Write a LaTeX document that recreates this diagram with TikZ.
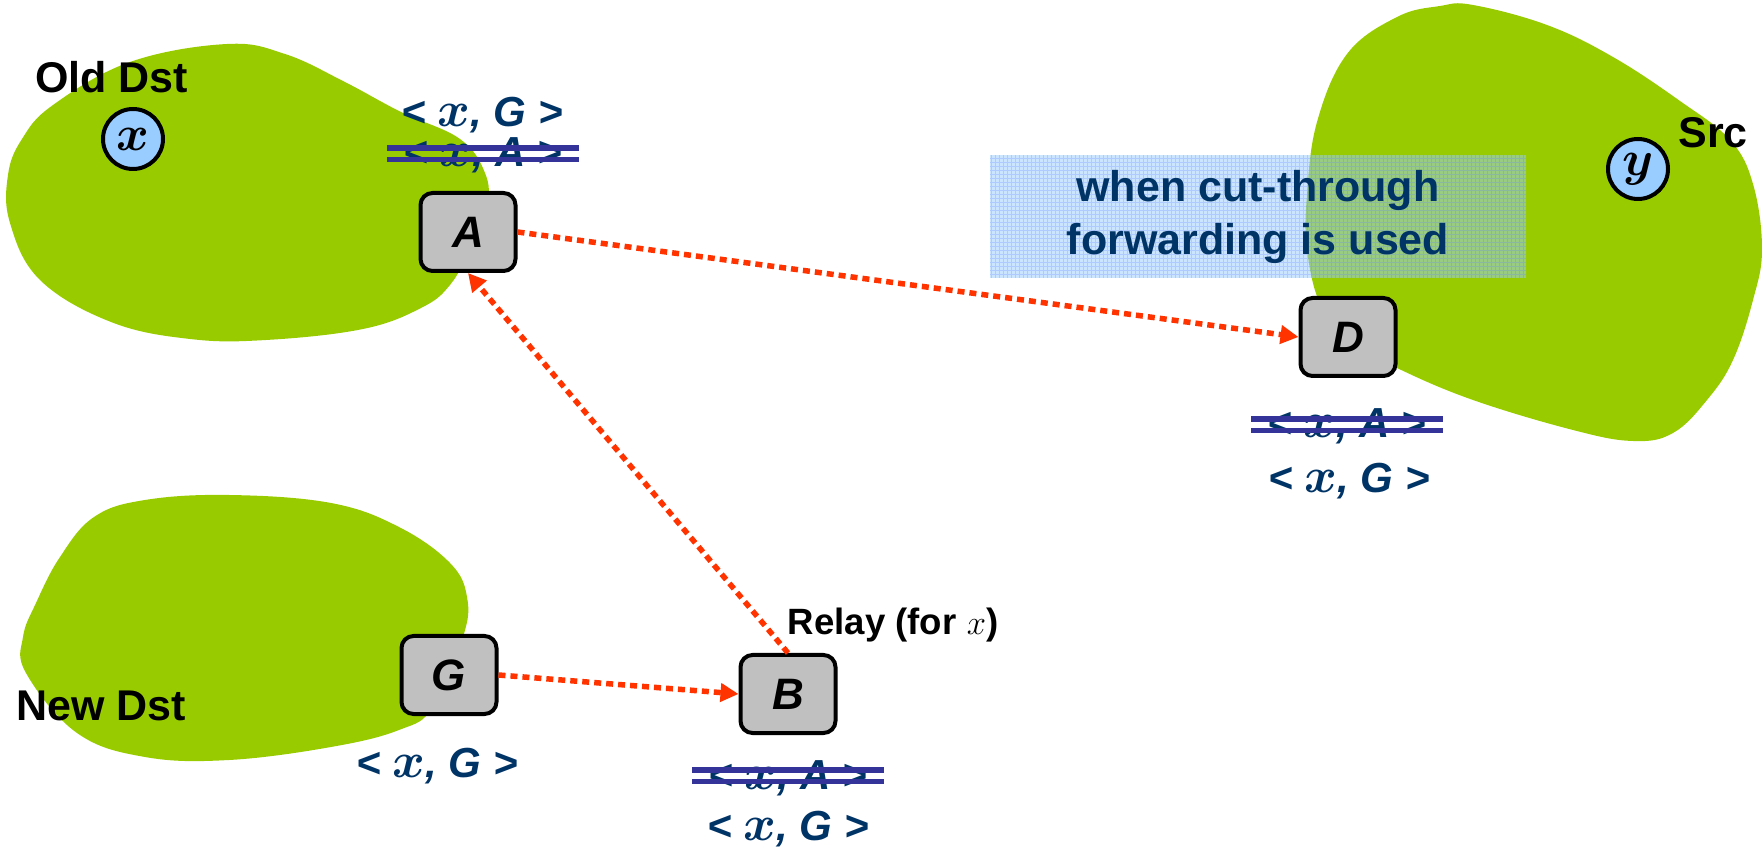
\documentclass[tikz,border=0pt]{standalone}
\usepackage{fontspec}
\setmainfont{Liberation Sans}
\usetikzlibrary{arrows.meta,calc}

\definecolor{blobgreen}{HTML}{99CC00}
\definecolor{nodegray}{HTML}{C0C0C0}
\definecolor{hostblue}{HTML}{99CCFF}
\definecolor{labelnavy}{HTML}{003366}
\definecolor{strikeblue}{HTML}{333399}
\definecolor{flowred}{HTML}{FF3300}

% the destination variable, set large in math italic
\newcommand{\varx}{{\fontsize{27}{27}\selectfont\boldmath$x$}}
% a mapping entry  < x, R >
\newcommand{\mapentry}[1]{\textbf{\textit{< }}\varx\textbf{\textit{, #1 >}}}

\tikzset{
  router/.style={draw=black, line width=2pt, rounded corners=6pt, fill=nodegray,
    minimum width=47.5pt, minimum height=39pt, inner sep=0pt,
    font=\fontsize{22}{22}\selectfont\bfseries\itshape},
  host/.style={circle, draw=black, line width=2pt, fill=hostblue,
    minimum size=30pt, inner sep=0pt, font=\fontsize{24}{24}\selectfont\boldmath},
  place/.style={anchor=base, inner sep=0pt, text=black,
    font=\fontsize{21.5}{21.5}\selectfont\bfseries},
  mapping/.style={anchor=base, inner sep=0pt, text=labelnavy,
    font=\fontsize{21}{21}\selectfont},
  strike/.style={draw=strikeblue, line width=2.8pt},
  flow/.style={draw=flowred, line width=2.75pt, dash pattern=on 3.5pt off 2.5pt,
    -{Triangle[length=9pt,width=9pt,fill=flowred]}},
  notebox/.style={fill=hostblue, fill opacity=0.5, text opacity=1, text=labelnavy,
    minimum width=268pt, minimum height=61.5pt, inner sep=0pt, align=center,
    font=\fontsize{21.5}{26.5}\selectfont\bfseries,
    path picture={\draw[step=2pt, line width=0.25pt, draw=hostblue!60!blue, opacity=0.25]
      (path picture bounding box.south west) grid (path picture bounding box.north east);}},
}

\begin{document}
\begin{tikzpicture}[x=0.5pt, y=-0.5pt]
\useasboundingbox (0,0) rectangle (1762,849);

% domains
\fill[blobgreen] plot[smooth cycle, tension=0.65] coordinates {
  (227,44) (285,54) (343,81) (401,112) (460,139) (485,173) (487,205) (471,247)
  (450,285) (421,308) (363,329) (266,340) (190,339) (111,322) (40,280) (10,223)
  (8,175) (22,139) (53,105) (130,62)};
\fill[blobgreen] plot[smooth cycle, tension=0.65] coordinates {
  (229,495) (331,503) (399,527) (450,563) (467,597) (463,637) (433,707) (399,730)
  (331,747) (229,760) (145,757) (77,733) (26,673) (23,637) (36,603) (60,557)
  (94,517) (145,500)};
\fill[blobgreen] plot[smooth cycle, tension=0.65] coordinates {
  (1473,5) (1547,25) (1613,57) (1680,101) (1730,140) (1753,184) (1762,249)
  (1753,300) (1733,360) (1707,400) (1673,433) (1633,441) (1573,430) (1473,400)
  (1397,368) (1347,340) (1320,304) (1307,249) (1307,195) (1317,122) (1347,54)
  (1397,17) (1440,6)};

% hosts and domain names
\node[host] (hx) at (133,139) {$x$};
\node[host] (hy) at (1638,169) {$y$};
\node[place] (olddst) at (111.5,93) {Old Dst};
\node[place] (src) at (1713,148) {Src};
\node[place] (newdst) at (101,720) {New Dst};
\node[place, font=\fontsize{18.3}{18.3}\selectfont\bfseries] (relay) at (893,635) {Relay (for $x$)};

% note
\node[notebox] (note) at (1258,216.5) {when cut-through\\forwarding is used};

% routers
\node[router] (A) at (468,232) {A};
\node[router] (D) at (1348,337) {D};
\node[router] (G) at (449,675) {G};
\node[router] (B) at (788,694) {B};

% mapping entries
\node[mapping] (mAnew) at (482,127) {\mapentry{G}};
\node[mapping] (mAold) at (483,167) {\mapentry{A}};
\node[mapping] (mDold) at (1347,438) {\mapentry{A}};
\node[mapping] (mDnew) at (1349,493) {\mapentry{G}};
\node[mapping] (mG) at (437,777) {\mapentry{G}};
\node[mapping] (mBold) at (788,789) {\mapentry{A}};
\node[mapping] (mBnew) at (788,840) {\mapentry{G}};

% stale entries struck out
\foreach \m in {mAold, mDold, mBold} {
  \draw[strike] ($(\m.base)+(-96,-19)$) -- ($(\m.base)+(96,-19)$);
  \draw[strike] ($(\m.base)+(-96,-7.5)$) -- ($(\m.base)+(96,-7.5)$);
}

% packet paths
\draw[flow] (A.east) -- (D.west);
\draw[flow] (B.north) -- (A.south);
\draw[flow] (G.east) -- (B.west);
\end{tikzpicture}
\end{document}
